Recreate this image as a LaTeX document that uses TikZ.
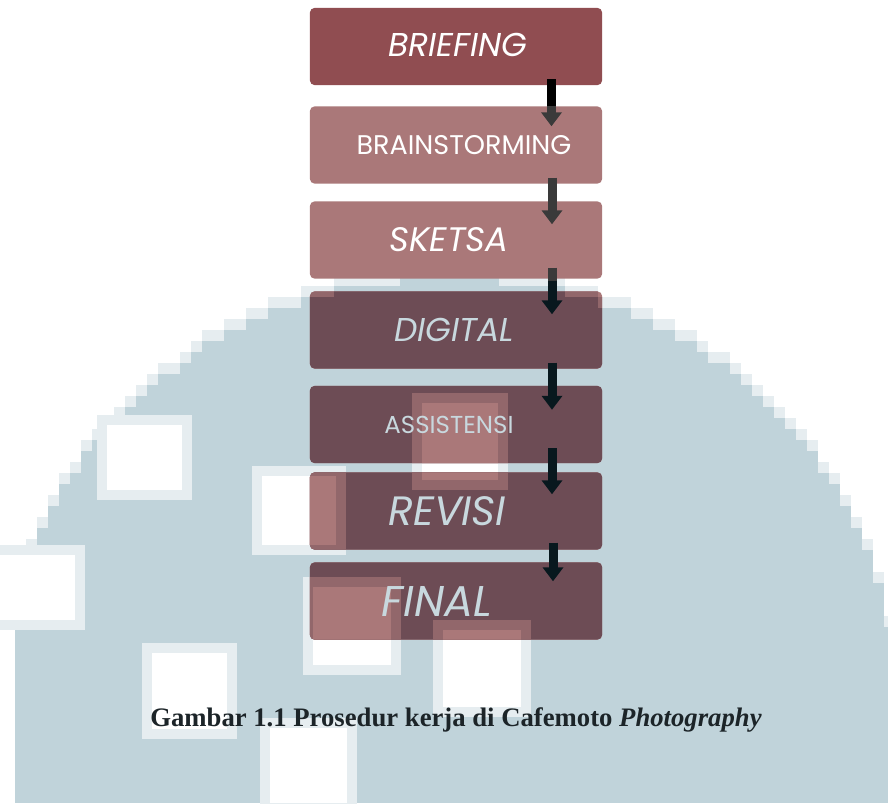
\documentclass[tikz,border=0pt]{standalone}
\usepackage{fontspec}
\setmainfont{Liberation Serif}
\newfontfamily\boxfont{Poppins}
\usetikzlibrary{arrows.meta}

\pgfdeclarelayer{background}
\pgfsetlayers{background,main}

\definecolor{wmblue}{RGB}{192,211,218}
\definecolor{boxred}{RGB}{144,77,81}
\definecolor{boxrose}{RGB}{170,120,121}
\definecolor{boxplum}{RGB}{109,76,85}
\definecolor{palemist}{RGB}{200,216,222}
\definecolor{arrowgray}{RGB}{58,58,58}
\definecolor{arrowink}{RGB}{8,24,30}
\definecolor{captionink}{RGB}{28,36,40}
\colorlet{wmfringe}{wmblue!40!white}
\colorlet{plumfringe}{boxplum!40!boxrose}

% pixelated round backdrop, drawn column by column with a soft top row
\newcommand\wmcols[2]{%
  \foreach \i in {0,...,79}{%
    \pgfmathsetmacro\xl{15+11*\i}%
    \pgfmathsetmacro\xr{min(\xl+11,888)}%
    \pgfmathsetmacro\dx{(\xl+5.5-450)/446}%
    \pgfmathsetmacro\yt{11*round((702-424*sqrt(max(1-\dx*\dx,0)))/11)}%
    \fill[#2] (\xl,\yt-11) rectangle (\xr,\yt);
    \fill[#1] (\xl,\yt) rectangle (\xr,803);
  }%
}
% one square opening with a soft rim
\newcommand\wmhole[4]{%
  \fill[\rimcolor] (#1,#2) rectangle (#3,#4);
  \fill[\corecolor] (#1+10,#2+10) rectangle (#3-10,#4-10);
}
% all square openings in the backdrop
\newcommand\wmholes[2]{%
  \def\rimcolor{#1}\def\corecolor{#2}%
  \wmhole{97}{415}{192}{500}
  \wmhole{-20}{545}{85}{630}
  \wmhole{252}{466}{346}{555}
  \wmhole{412}{393}{508}{490}
  \wmhole{303}{577}{401}{675}
  \wmhole{433}{620}{531}{717}
  \wmhole{142}{643}{237}{739}
  \wmhole{260}{718}{357}{813}
}

\tikzset{
  stepbox/.style={minimum width=292pt, minimum height=77pt, inner sep=0pt},
  upper/.style={stepbox, text=white},
  lower/.style={stepbox, text=palemist},
  shaft/.style={line width=9pt},
  tipped/.style={line width=9pt, -{Triangle[width=20pt,length=14pt]}},
  boxfill/.style={rounded corners=5pt},
}

\begin{document}
\begin{tikzpicture}[x=1pt,y=-1pt]
\useasboundingbox (0,0) rectangle (890,803);

% process steps
\node[upper, font=\boxfont\itshape\fontsize{33}{36}\selectfont] (b1) at (456,46.5) {\kern4pt\raisebox{3pt}{BRIEFING}};
\node[upper, font=\boxfont\fontsize{27}{30}\selectfont] (b2) at (456,145) {\kern16pt BRAINSTORMING};
\node[upper, font=\boxfont\itshape\fontsize{34}{37}\selectfont] (b3) at (456,240) {SKETSA\kern14pt};
\node[lower, font=\boxfont\itshape\fontsize{33}{36}\selectfont] (b4) at (456,330) {DIGITAL\kern4pt};
\node[lower, font=\boxfont\fontsize{24.5}{27}\selectfont] (b5) at (456,424.5) {ASSISTENSI\kern14pt};
\node[lower, font=\boxfont\itshape\fontsize{41}{45}\selectfont] (b6) at (456,511) {REVISI\kern18pt};
\node[lower, font=\boxfont\itshape\fontsize{43}{47}\selectfont] (b7) at (456,601) {FINAL\kern38pt};

% connectors
\draw[shaft, black] ([xshift=95.5pt,yshift=6pt]b1.south) -- ([xshift=95.5pt]b2.north);
\draw[tipped, arrowgray] ([xshift=95.5pt]b2.north) -- ([xshift=95.5pt,yshift=-20pt]b2.north);
\draw[tipped, arrowgray] ([xshift=96pt,yshift=6pt]b2.south) -- ([xshift=96pt,yshift=-23pt]b3.north);
\draw[shaft, arrowgray] ([xshift=96pt,yshift=11pt]b3.south) -- ([xshift=96pt,yshift=-2pt]b3.south);
\draw[tipped, arrowink] ([xshift=96pt,yshift=-2pt]b3.south) -- ([xshift=96pt,yshift=-23pt]b4.north);
\draw[tipped, arrowink] ([xshift=96pt,yshift=6pt]b4.south) -- ([xshift=96pt,yshift=-24pt]b5.north);
\draw[tipped, arrowink] ([xshift=96pt,yshift=15pt]b5.south) -- ([xshift=96pt,yshift=-22pt]b6.north);
\draw[tipped, arrowink] ([xshift=97pt,yshift=7pt]b6.south) -- ([xshift=97pt,yshift=-19pt]b7.north);

% caption
\node[anchor=base, text=captionink, font=\bfseries\fontsize{26.7}{30}\selectfont] (caption) at (456,726)
  {Gambar 1.1 Prosedur kerja di Cafemoto \textit{Photography}};

\begin{pgfonlayer}{background}
  \fill[white] (0,0) rectangle (890,803);
  \wmcols{wmblue}{wmfringe}
  \wmholes{wmfringe}{white}
  \fill[boxred, boxfill] (b1.north west) rectangle (b1.south east);
  \foreach \b in {b2,b3,b4,b5,b6,b7}
    \fill[boxrose, boxfill] (\b.north west) rectangle (\b.south east);
  \begin{scope}
    \clip[boxfill] (b4.north west) rectangle (b4.south east)
      (b5.north west) rectangle (b5.south east)
      (b6.north west) rectangle (b6.south east)
      (b7.north west) rectangle (b7.south east);
    \wmcols{boxplum}{plumfringe}
    \wmholes{plumfringe}{boxrose}
  \end{scope}
\end{pgfonlayer}
\end{tikzpicture}
\end{document}
